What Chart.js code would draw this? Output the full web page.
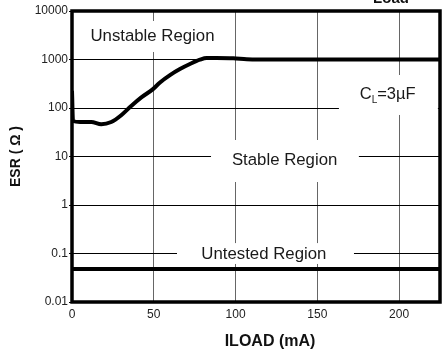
<!DOCTYPE html>
<html><head><meta charset="utf-8">
<script src="https://cdn.jsdelivr.net/npm/chart.js@4/dist/chart.umd.min.js"></script>
<style>html,body{margin:0;padding:0;background:#fff}#wrap{width:442px;height:357px;position:relative}</style>
</head><body><div id="wrap"><canvas id="c" width="442" height="357"></canvas></div>
<script>
// ---- data ----
const iloadBoundary = [0, 0.6, 4.9, 11.8, 17.9, 24.0, 30.1, 36.2, 42.4, 49.5, 53.8, 59.9, 66.0, 72.1, 78.2, 82.3, 88.4, 98.6, 106.8, 114.9, 225];
const esrBoundary   = [226, 54, 51.5, 51.5, 46.2, 51.5, 71, 110, 165, 245, 337, 478, 636, 807, 990, 1074, 1074, 1059, 1010, 1000, 1000];
const iloadFloor = [0, 225];
const esrFloor   = [0.048, 0.048];
const xTicks = [0, 50, 100, 150, 200];
const yTicks = [0.01, 0.1, 1, 10, 100, 1000, 10000];
const yTickLabels = ['0.01', '0.1', '1', '10', '100', '1000', '10000'];
const xTitle = 'ILOAD (mA)';
const yTitle = 'ESR ( \u03A9 )';

const FONT = '"Liberation Sans", Arial, Helvetica, sans-serif';

const annot = {
  id: 'annot',
  beforeDatasetsDraw(chart) {
    const { ctx, scales: { x, y } } = chart;
    const boxes = [
      [7.3, 91.7, 1429, 6223],
      [163.2, 223.7, 71.8, 479],
      [85, 175.4, 2.98, 21.9],
      [64.2, 172.4, 0.0608, 0.164]
    ];
    ctx.save();
    ctx.fillStyle = '#fff';
    boxes.forEach(b => {
      const x1 = x.getPixelForValue(b[0]), x2 = x.getPixelForValue(b[1]);
      const y1 = y.getPixelForValue(b[2]), y2 = y.getPixelForValue(b[3]);
      ctx.fillRect(x1, y2, x2 - x1, y1 - y2);
    });
    ctx.fillStyle = '#1a1a1a';
    ctx.font = '16.8px ' + FONT;
    ctx.textAlign = 'center';
    ctx.textBaseline = 'middle';
    const labels = [
      ['Unstable Region', 49.2, 3055],
      ['Stable Region', 130, 8.18],
      ['Untested Region', 117.3, 0.0963]
    ];
    labels.forEach(l => ctx.fillText(l[0], x.getPixelForValue(l[1]), y.getPixelForValue(l[2])));
    // C_L = 3 µF
    const cx = x.getPixelForValue(193), cy = y.getPixelForValue(194);
    ctx.font = '16.5px ' + FONT;
    const wC = ctx.measureText('C').width;
    const wR = ctx.measureText('=3\u00B5F').width;
    ctx.font = '10px ' + FONT;
    const wL = ctx.measureText('L').width;
    const total = wC + wL + wR;
    let sx = cx - total / 2;
    ctx.textAlign = 'left';
    ctx.font = '16.5px ' + FONT;
    ctx.fillText('C', sx, cy);
    ctx.font = '10px ' + FONT;
    ctx.fillText('L', sx + wC, cy + 6);
    ctx.font = '16.5px ' + FONT;
    ctx.fillText('=3\u00B5F', sx + wC + wL, cy);
    ctx.restore();
  },
  afterDatasetsDraw(chart) {
    const { ctx, chartArea: a } = chart;
    ctx.save();
    ctx.strokeStyle = '#000';
    ctx.lineWidth = 3.5;
    ctx.strokeRect(a.left, a.top, a.right - a.left, a.bottom - a.top);
    ctx.fillStyle = '#111';
    ctx.font = 'bold 16px ' + FONT;
    ctx.textAlign = 'center';
    ctx.textBaseline = 'middle';
    ctx.fillText(xTitle, 270, 342);
    ctx.font = 'bold 15px ' + FONT;
    ctx.textBaseline = 'alphabetic';
    ctx.fillText('Load', 391, 3);
    ctx.restore();
  }
};

new Chart(document.getElementById('c'), {
  type: 'line',
  data: {
    datasets: [
      {
        label: 'Stability boundary',
        data: iloadBoundary.map((v, i) => ({ x: v, y: esrBoundary[i] })),
        borderColor: '#000',
        borderWidth: 4,
        pointRadius: 0,
        cubicInterpolationMode: 'monotone',
        fill: false
      },
      {
        label: 'Untested boundary',
        data: iloadFloor.map((v, i) => ({ x: v, y: esrFloor[i] })),
        borderColor: '#000',
        borderWidth: 4,
        pointRadius: 0,
        fill: false
      }
    ]
  },
  options: {
    responsive: false,
    animation: false,
    layout: { padding: { left: 0, top: 11, right: 2, bottom: 0 } },
    plugins: { legend: { display: false }, tooltip: { enabled: false }, title: { display: false } },
    scales: {
      x: {
        type: 'linear',
        min: 0, max: 225,
        afterBuildTicks: s => { s.ticks = xTicks.map(v => ({ value: v })); },
        afterFit: s => { s.height = 55; },
        grid: { color: '#666', lineWidth: 1, drawTicks: false },
        border: { display: false },
        ticks: { padding: 5, color: '#222', font: { family: FONT, size: 12 }, autoSkip: false, maxRotation: 0 }
      },
      y: {
        type: 'logarithmic',
        min: 0.01, max: 10000,
        afterBuildTicks: s => { s.ticks = yTicks.map(v => ({ value: v })); },
        afterFit: s => { s.width = 72; },
        grid: { color: '#000', lineWidth: 1, drawTicks: true, tickLength: 3 },
        border: { display: false },
        ticks: {
          padding: 1, color: '#222', font: { family: FONT, size: 12 }, autoSkip: false,
          callback: (v, i) => yTickLabels[i]
        },
        title: { display: true, text: yTitle, color: '#111', font: { family: FONT, size: 14, weight: 'bold' }, padding: { top: 8, bottom: 0 } }
      }
    }
  },
  plugins: [annot]
});
</script>
</body></html>
